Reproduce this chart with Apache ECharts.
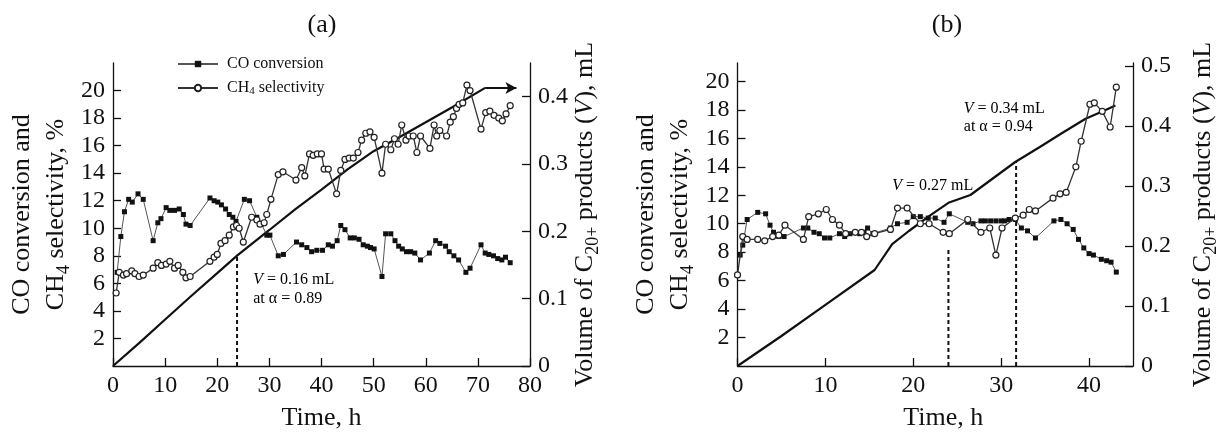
<!DOCTYPE html>
<html><head><meta charset="utf-8">
<script src="https://cdn.jsdelivr.net/npm/echarts@6/dist/echarts.min.js"></script>
<style>html,body{margin:0;padding:0;background:#fff}#c{width:1221px;height:436px}</style>
</head><body><div id="c"></div>
<script>
// ---------- data (time h, value) ----------
const coA = [[0.8,6.8],[1.5,9.4],[2.2,11.2],[3.0,12.1],[3.7,11.9],[4.8,12.5],[5.8,12.1],[7.7,9.1],[8.6,10.4],[9.2,10.7],[10.2,11.5],[10.9,11.3],[11.8,11.3],[12.7,11.4],[13.5,11.0],[14.0,10.3],[14.8,10.2],[18.6,12.2],[19.4,12.0],[20.1,11.9],[20.8,11.7],[21.6,11.4],[22.3,11.0],[23.0,10.8],[23.6,10.5],[25.2,12.1],[26.2,12.0],[27.6,10.8],[28.5,10.3],[29.5,9.5],[30.1,9.5],[31.7,8.0],[32.7,8.1],[35.2,9.0],[36.2,8.8],[37.2,8.6],[38.1,8.3],[39.1,8.4],[40.2,8.4],[41.3,8.8],[42.1,8.7],[43.0,9.1],[43.7,10.2],[44.5,9.9],[45.5,9.3],[46.3,9.3],[47.2,9.2],[48.0,8.8],[48.8,8.7],[49.4,8.6],[50.1,8.5],[51.6,6.5],[52.3,9.6],[53.3,9.6],[54.1,9.1],[54.8,8.7],[55.5,8.5],[56.3,8.3],[57.1,8.3],[57.9,8.2],[59.0,7.7],[60.7,8.2],[61.9,9.1],[62.7,8.9],[63.8,8.7],[64.5,8.3],[65.4,8.0],[66.3,7.7],[67.7,6.8],[68.5,7.1],[70.6,8.8],[71.4,8.2],[72.1,8.1],[73.0,8.0],[73.8,7.8],[74.6,7.7],[75.3,7.9],[76.2,7.5]];
const chA = [[0.6,5.3],[1.2,6.8],[2.0,6.6],[2.6,6.7],[3.6,6.9],[4.2,6.7],[5.0,6.5],[5.8,6.6],[7.7,7.1],[8.6,7.5],[9.3,7.3],[10.2,7.4],[10.9,7.6],[11.8,7.1],[12.5,7.3],[13.4,6.8],[14.0,6.4],[14.8,6.5],[18.6,7.6],[19.4,7.9],[20.0,8.1],[20.7,8.9],[21.5,9.1],[22.3,9.5],[23.1,10.1],[23.7,10.2],[24.2,10.0],[25.0,9.0],[26.6,10.8],[27.6,10.6],[28.2,10.3],[29.0,10.4],[29.5,11.0],[30.3,12.1],[31.7,13.9],[32.6,14.1],[35.1,13.5],[36.2,14.4],[36.8,13.8],[37.7,15.4],[38.4,15.3],[39.2,15.4],[40.0,15.4],[40.5,14.3],[41.3,14.3],[42.9,12.5],[43.7,14.2],[44.5,15.0],[45.3,15.1],[46.1,15.1],[47.0,15.5],[47.7,16.4],[48.5,16.9],[49.3,17.0],[50.1,16.6],[51.6,14.0],[52.3,16.1],[53.3,15.7],[54.0,16.5],[54.7,16.1],[55.4,17.5],[56.2,16.4],[56.8,16.7],[57.6,16.7],[58.3,15.5],[59.0,16.7],[60.8,15.8],[61.6,17.5],[62.1,16.7],[62.7,17.1],[64.0,16.7],[64.7,17.7],[65.3,18.1],[65.9,18.7],[66.4,19.0],[67.1,19.1],[67.9,20.4],[68.5,20.0],[70.6,17.2],[71.5,18.4],[72.3,18.5],[73.1,18.2],[74.0,18.0],[74.7,17.8],[75.4,18.3],[76.2,18.9]];
const volA = [[0,0],[5,0.034],[10,0.069],[15,0.104],[20,0.138],[23.8,0.164],[30,0.202],[35,0.233],[40,0.262],[45,0.292],[50,0.319],[55,0.34],[60,0.362],[65,0.384],[71.4,0.413]];
const coB = [[0.3,7.8],[0.6,8.5],[1.1,10.3],[2.3,10.8],[3.2,10.7],[3.7,9.9],[4.1,9.4],[4.7,9.1],[5.3,9.1],[7.5,9.7],[8.0,9.7],[8.7,9.4],[9.3,9.3],[9.9,9.0],[10.5,9.0],[11.6,9.3],[12.2,9.1],[12.8,9.3],[13.9,9.3],[14.4,9.4],[14.8,9.7],[15.4,9.3],[17.4,9.7],[18.2,10.0],[19.3,10.1],[20.0,10.5],[20.8,10.5],[21.7,10.4],[22.5,10.4],[23.5,10.1],[24.1,10.7],[26.2,10.1],[26.8,10.0],[27.7,10.2],[28.2,10.2],[28.8,10.2],[29.4,10.2],[30.0,10.2],[30.4,10.2],[30.9,10.3],[31.6,10.3],[32.3,9.7],[33.0,9.5],[33.9,9.0],[36.0,10.2],[36.8,10.3],[37.5,10.0],[38.2,9.6],[38.8,8.9],[39.4,8.3],[40.0,7.9],[40.5,7.8],[41.4,7.5],[42.0,7.4],[42.5,7.3],[43.1,6.6]];
const chB = [[0,6.4],[0.6,9.1],[1.1,8.9],[2.3,8.9],[3.1,8.8],[4.0,9.1],[4.7,9.2],[5.4,9.9],[7.5,8.9],[8.1,10.5],[9.2,10.7],[10.1,11.0],[10.8,10.3],[11.6,9.9],[12.3,9.3],[13.4,9.4],[14.1,9.4],[14.7,9.1],[15.6,9.3],[17.4,9.6],[18.2,11.1],[19.3,11.1],[20.8,10.0],[21.8,10.0],[23.4,9.4],[24.1,9.3],[26.2,10.3],[27.7,9.4],[28.7,9.7],[29.4,7.8],[30.1,9.7],[31.6,10.4],[32.5,10.6],[33.2,11.0],[33.9,10.9],[35.9,11.8],[36.7,12.1],[37.4,12.2],[38.5,14.0],[39.1,15.8],[40.1,18.4],[40.6,18.5],[41.5,17.9],[42.4,16.8],[43.1,19.6]];
const volB = [[0,0],[5,0.05],[10,0.102],[15.6,0.16],[17.6,0.203],[19.5,0.225],[22,0.252],[24,0.272],[26.5,0.285],[31.6,0.34],[34.4,0.365],[36.8,0.387],[39.6,0.412],[41.5,0.424],[43,0.434]];
const dropA = [[23.8,0],[23.8,0.163]];
const dropB1 = [[24,0],[24,0.194]];
const dropB2 = [[31.7,0],[31.7,0.34]];
const arrowA = [[71.4,0.413],[77.4,0.413]];
const ticksLeft = [2,4,6,8,10,12,14,16,18,20];
const ticksRightA = [0,0.1,0.2,0.3,0.4];
const ticksRightB = [0,0.1,0.2,0.3,0.4,0.5];
const ticksXA = [0,10,20,30,40,50,60,70,80];
const ticksXB = [0,10,20,30,40];
const noteA = [[26.9,0.128],[26.9,0.100]];
const noteB1 = [[17.6,0.30]];
const noteB2 = [[25.75,0.428],[25.75,0.399]];

// ---------- styles ----------
const FONT = "'Liberation Serif','Times New Roman',serif";
const INK = '#111';
const TICK = 24;
function valAxis(extra){
  const a = {
    type:'value', splitLine:{show:false},
    axisLine:{show:true, onZero:false, lineStyle:{color:INK, width:1.3}},
    nameMoveOverlap:false
  };
  return Object.assign(a, extra);
}
function tickStyle(list){ return {show:true, inside:true, length:8, lineStyle:{color:INK,width:1.3}, customValues:list}; }
function inList(list){ return v => list.some(t => Math.abs(t - v) < 1e-6) ? String(+v.toFixed(2)) : ''; }
function labelStyle(list){ return {color:INK, fontFamily:FONT, fontSize:TICK, margin:8, customValues:list, formatter:inList(list)}; }
const nameRich = {
  a:{fontFamily:FONT, fontSize:26, color:INK, lineHeight:34},
  s:{fontFamily:FONT, fontSize:18, color:INK, lineHeight:22, verticalAlign:'bottom'},
  i:{fontFamily:FONT, fontSize:26, color:INK, lineHeight:34, fontStyle:'italic'}
};
const leftName = '{a|CO conversion and}\n{a|CH}{s|4}{a| selectivity, %}';
const rightName = '{a|Volume of C}{s|20+}{a| products (}{i|V}{a|), mL}';

function xAx(grid, max, ticks, pad){
  return valAxis({gridIndex:grid, min:0, max:max, interval:10,
    axisTick:tickStyle(ticks), axisLabel:labelStyle(ticks),
    name:'Time, h', nameLocation:'middle', nameGap:39,
    nameTextStyle:{fontFamily:FONT, fontSize:26, color:INK, padding:pad}});
}
function yLeft(grid, max){
  return valAxis({gridIndex:grid, position:'left', min:0, max:max, interval:2,
    axisTick:tickStyle(ticksLeft), axisLabel:labelStyle(ticksLeft),
    name:leftName, nameLocation:'middle', nameRotate:90, nameGap:40,
    nameTextStyle:{rich:nameRich}});
}
function yRight(grid, max, ticks, gap){
  return valAxis({gridIndex:grid, position:'right', min:0, max:max, interval:0.1,
    axisTick:tickStyle(ticks), axisLabel:labelStyle(ticks),
    name:rightName, nameLocation:'middle', nameRotate:90, nameGap:gap,
    nameTextStyle:{rich:nameRich}});
}
function coSeries(x,y,data){
  return {type:'line', name:'CO conversion', xAxisIndex:x, yAxisIndex:y, data:data,
    symbol:'rect', symbolSize:5, showSymbol:true,
    lineStyle:{color:'#555', width:1}, itemStyle:{color:INK}, z:3};
}
function chSeries(x,y,data){
  return {type:'line', name:'CH4 selectivity', xAxisIndex:x, yAxisIndex:y, data:data,
    symbol:'circle', symbolSize:6, showSymbol:true,
    lineStyle:{color:'#333', width:1.3}, itemStyle:{color:'#fff', borderColor:'#222', borderWidth:1.2}, z:4};
}
function volSeries(x,y,data,extra){
  return Object.assign({type:'line', name:'V', xAxisIndex:x, yAxisIndex:y, data:data, symbol:'none',
    lineStyle:{color:INK, width:2.2}, z:2}, extra||{});
}
function dropSeries(x,y,data){
  return {type:'line', name:'drop', xAxisIndex:x, yAxisIndex:y, data:data, symbol:'none',
    lineStyle:{color:INK, width:2, type:[4,3]}, z:1};
}

const option = {
  animation:false,
  backgroundColor:'#fff',
  grid:[
    {left:113, top:63, width:417, height:307},
    {left:737.5, top:63, width:402.5, height:307}
  ],
  xAxis:[ xAx(0,80,ticksXA,[0,0,0,0]), xAx(1,45,ticksXB,[0,0,0,16]) ],
  yAxis:[ yLeft(0,22), yRight(0,0.45,ticksRightA,38), yLeft(1,21.3), yRight(1,0.505,ticksRightB,53) ],
  legend:{
    show:true, orient:'vertical', left:172, top:51, itemWidth:40, itemHeight:8, itemGap:8,
    data:['CO conversion','CH4 selectivity'],
    formatter: n => n === 'CH4 selectivity' ? '{a|CH}{s|4}{a| selectivity}' : '{a|CO conversion}',
    textStyle:{padding:[0,0,0,4], rich:{
      a:{fontFamily:FONT, fontSize:16, color:INK, lineHeight:18},
      s:{fontFamily:FONT, fontSize:11, color:INK, verticalAlign:'bottom', lineHeight:14}
    }}
  },
  series:[
    coSeries(0,0,coA), chSeries(0,0,chA),
    volSeries(0,1,volA,{markLine:{silent:true, symbol:['none','arrow'], symbolSize:[9,11],
      label:{show:false}, lineStyle:{color:INK, width:2, type:'solid'},
      data:[[{coord:arrowA[0]},{coord:arrowA[1]}]]}}),
    dropSeries(0,1,dropA),
    coSeries(1,2,coB), chSeries(1,2,chB),
    volSeries(1,3,volB),
    dropSeries(1,3,dropB1), dropSeries(1,3,dropB2)
  ]
};
const chart = echarts.init(document.getElementById('c'));
chart.setOption(option);

const noteRich = {
  a:{fontFamily:FONT, fontSize:16, color:INK},
  i:{fontFamily:FONT, fontSize:16, color:INK, fontStyle:'italic'}
};
function note(si, p, txt){
  const q = chart.convertToPixel({seriesIndex:si}, p);
  return {type:'text', x:q[0], y:q[1], style:{text:txt, rich:noteRich, verticalAlign:'middle', align:'left'}};
}
chart.setOption({graphic:[
  {type:'text', x:322, y:25, style:{text:'(a)', font:'26px '+FONT, fill:INK, align:'center', verticalAlign:'middle'}},
  {type:'text', x:947, y:25, style:{text:'(b)', font:'26px '+FONT, fill:INK, align:'center', verticalAlign:'middle'}},
  note(2, noteA[0], '{i|V}{a| = 0.16 mL}'),
  note(2, noteA[1], '{a|at \u03b1 = 0.89}'),
  note(6, noteB1[0], '{i|V}{a| = 0.27 mL}'),
  note(6, noteB2[0], '{i|V}{a| = 0.34 mL}'),
  note(6, noteB2[1], '{a|at \u03b1 = 0.94}')
]});
</script></body></html>
